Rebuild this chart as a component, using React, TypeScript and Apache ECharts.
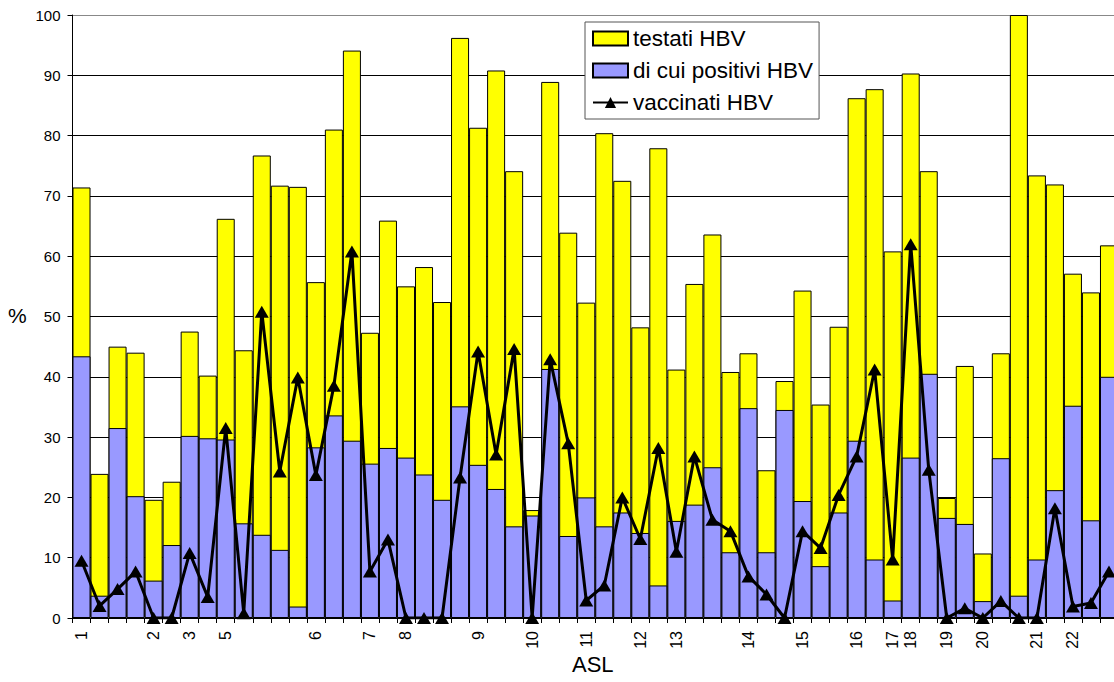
import React, { useEffect, useRef } from 'react';
import * as echarts from 'echarts';

const aslLabels: string[] = [
  '1', '', '', '', '2', '', '3', '', '5', '',
  '', '', '', '6', '', '', '7', '', '8', '',
  '', '', '9', '', '', '10', '', '', '11', '',
  '', '12', '', '13', '', '', '', '14', '', '',
  '15', '', '', '16', '', '17', '18', '', '19', '',
  '20', '', '', '21', '', '22', '', '',
];

const testati: number[] = [
  71.4, 23.9, 45.0, 44.0, 19.6, 22.6, 47.5, 40.2, 66.2, 44.4,
  76.7, 71.7, 71.5, 55.7, 81.0, 94.1, 47.3, 65.9, 55.0, 58.2,
  52.4, 96.2, 81.3, 90.8, 74.1, 17.9, 88.9, 63.9, 52.3, 80.4,
  72.5, 48.2, 77.9, 41.2, 55.4, 63.6, 40.8, 43.9, 24.5, 39.3,
  54.3, 35.4, 48.3, 86.2, 87.7, 60.8, 90.3, 74.1, 19.9, 41.8,
  10.7, 43.9, 100, 73.4, 71.9, 57.1, 54.0, 61.8,
];

const positivi: number[] = [
  43.4, 3.7, 31.5, 20.2, 6.2, 12.1, 30.2, 29.8, 29.6, 15.7,
  13.8, 11.3, 1.9, 28.3, 33.6, 29.4, 25.6, 28.2, 26.6, 23.8,
  19.6, 35.1, 25.4, 21.4, 15.2, 17.0, 41.3, 13.6, 20.0, 15.2,
  17.5, 14.1, 5.4, 16.1, 18.8, 25.0, 10.9, 34.8, 10.9, 34.5,
  19.4, 8.6, 17.5, 29.4, 9.7, 2.9, 26.6, 40.5, 16.6, 15.6,
  2.8, 26.5, 3.7, 9.7, 21.2, 35.2, 16.2, 40.0,
];

const vaccinati: number[] = [
  9.5, 2.0, 4.8, 7.7, 0, 0, 10.8, 3.5, 31.5, 0.8,
  50.8, 24.3, 39.9, 23.7, 38.5, 60.8, 7.7, 13.0, 0, 0,
  0, 23.3, 44.2, 27.1, 44.6, 0, 42.9, 29.0, 2.9, 5.4,
  20.0, 13.1, 28.2, 11.0, 26.8, 16.3, 14.4, 6.9, 3.9, 0,
  14.4, 11.6, 20.4, 26.8, 41.2, 9.7, 62.0, 24.6, 0, 1.6,
  0, 2.8, 0, 0, 18.2, 1.9, 2.5, 7.7,
];

const FONT = "'Liberation Sans', Arial, sans-serif";

export default function App() {
  const ref = useRef<HTMLDivElement>(null);

  useEffect(() => {
    if (!ref.current) return;
    const chart = echarts.init(ref.current, undefined, { renderer: 'svg' });
    const splitColors = ['#000', '#000', '#000', '#000', '#000', '#000', '#000', '#000', '#000', '#000', '#888'];
    chart.setOption({
      animation: false,
      backgroundColor: '#fff',
      textStyle: { fontFamily: FONT },
      grid: { left: 72.5, right: 0, top: 15, bottom: 64, containLabel: false },
      legend: {
        orient: 'vertical',
        left: 585,
        top: 22,
        padding: [5, 6, 5, 7],
        itemWidth: 35,
        itemHeight: 14,
        itemGap: 9,
        backgroundColor: '#fff',
        borderColor: '#555',
        borderWidth: 1,
        borderRadius: 0,
        textStyle: { fontFamily: FONT, fontSize: 22.5, lineHeight: 22, color: '#000' },
        data: [
          { name: 'testati HBV', icon: 'rect' },
          { name: 'di cui positivi HBV', icon: 'rect' },
          { name: 'vaccinati HBV' },
        ],
      },
      xAxis: {
        type: 'category',
        data: aslLabels,
        boundaryGap: true,
        axisLine: { show: true, lineStyle: { color: '#000', width: 1 } },
        axisTick: { show: true, interval: 0, length: 5, lineStyle: { color: '#000' } },
        axisLabel: {
          interval: 0,
          rotate: 90,
          margin: 13,
          fontSize: 16,
          fontFamily: FONT,
          color: '#000',
        },
      },
      yAxis: {
        type: 'value',
        min: 0,
        max: 100,
        interval: 10,
        axisLine: { show: true, lineStyle: { color: '#000', width: 1 } },
        axisTick: { show: true, length: 5, lineStyle: { color: '#000' } },
        axisLabel: { fontSize: 15, margin: 12, color: '#000', fontFamily: FONT },
        splitLine: { show: true, lineStyle: { color: splitColors, width: 1 } },
      },
      graphic: [
        {
          type: 'text',
          left: 8,
          top: 305,
          style: { text: '%', font: `21px ${FONT}`, fill: '#000' },
        },
        {
          type: 'text',
          left: 572,
          top: 653,
          style: { text: 'ASL', font: `22px ${FONT}`, fill: '#000' },
        },
      ],
      series: [
        {
          name: 'testati HBV',
          type: 'bar',
          data: testati,
          barCategoryGap: '0%',
          barGap: '-100%',
          itemStyle: { color: '#FFFF00', borderColor: '#000', borderWidth: 1 },
          z: 2,
        },
        {
          name: 'di cui positivi HBV',
          type: 'bar',
          data: positivi,
          barGap: '-100%',
          itemStyle: { color: '#9999FF', borderColor: '#000', borderWidth: 1 },
          z: 3,
        },
        {
          name: 'vaccinati HBV',
          type: 'line',
          data: vaccinati,
          symbol: 'triangle',
          symbolSize: [14, 12],
          showAllSymbol: true,
          lineStyle: { color: '#000', width: 3 },
          itemStyle: { color: '#000' },
          z: 5,
        },
      ],
    });
    return () => chart.dispose();
  }, []);

  return (
    <div
      style={{
        position: 'fixed',
        left: 0,
        top: 0,
        width: 1114,
        height: 682,
        overflow: 'hidden',
        background: '#fff',
      }}
    >
      <div ref={ref} style={{ width: 1118, height: 682 }} />
    </div>
  );
}
